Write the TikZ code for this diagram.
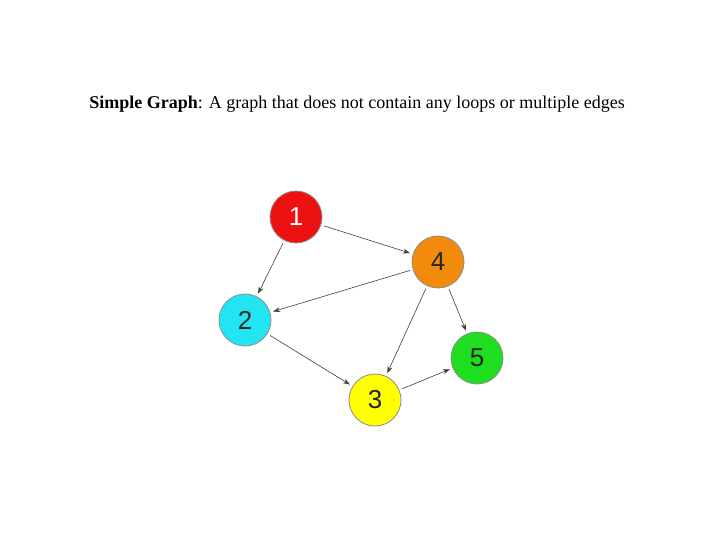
\documentclass[tikz,border=0pt]{standalone}
\usepackage{fontspec}
\setmainfont{Liberation Serif}
\newfontfamily\digitfont{Liberation Sans}
\usepackage{xcolor}
\usetikzlibrary{arrows.meta}
\definecolor{vred}{HTML}{EE1111}
\definecolor{vorange}{HTML}{F28A0C}
\definecolor{vcyan}{HTML}{22E4F2}
\definecolor{vgreen}{HTML}{1FDD1F}
\definecolor{vyellow}{HTML}{FFFF00}

\begin{document}
\begin{tikzpicture}[x=1pt, y=-1pt,
  vtx/.style={circle, draw=black!45, line width=0.8pt, minimum size=52pt,
              inner sep=0pt, font=\digitfont\fontsize{26}{26}\selectfont},
  ar/.style={-{Stealth[length=7pt, width=5pt]}, draw=black!75, line width=0.6pt,
             shorten <=3pt, shorten >=3pt}]
\useasboundingbox[fill=white] (0,0) rectangle (720,540);
\node[font=\fontsize{18}{20}\selectfont] (title) at (357,104)
  {\textbf{Simple Graph}: A graph that does not contain any loops or multiple edges};
\node[vtx, fill=vred, text=white] (v1) at (296,217) {1};
\node[vtx, fill=vorange, text=black!85] (v4) at (438,262) {4};
\node[vtx, fill=vcyan, text=black!85] (v2) at (245,320) {2};
\node[vtx, fill=vgreen, text=black!85] (v5) at (477,358) {5};
\node[vtx, fill=vyellow, text=black!85] (v3) at (375,400) {3};
\draw[ar] (v1)--(v4); \draw[ar] (v1)--(v2); \draw[ar] (v4)--(v2);
\draw[ar] (v4)--(v5); \draw[ar] (v4)--(v3); \draw[ar] (v2)--(v3);
\draw[ar] (v3)--(v5);
\end{tikzpicture}
\end{document}
